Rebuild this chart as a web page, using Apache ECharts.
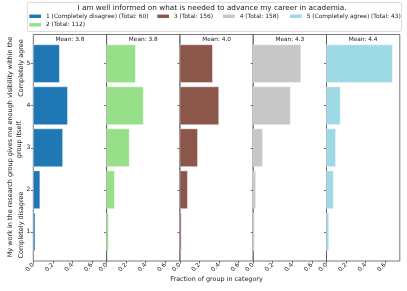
<!DOCTYPE html>
<html>
<head>
<meta charset="utf-8">
<script src="https://cdn.jsdelivr.net/npm/echarts@6/dist/echarts.min.js"></script>
<style>html,body{margin:0;padding:0;background:#fff}#c{width:407px;height:291px}</style>
</head>
<body>
<div id="c"></div>
<script>
const ratings = [1, 2, 3, 4, 5];
const seriesNames = [
  '1 (Completely disagree) (Total: 60)',
  '2 (Total: 112)',
  '3 (Total: 156)',
  '4 (Total: 158)',
  '5 (Completely agree) (Total: 43)'
];
// fraction of group in each rating category (rating 1..5)
const frac1 = [0.017, 0.067, 0.300, 0.350, 0.267];
const frac2 = [0.018, 0.080, 0.232, 0.375, 0.295];
const frac3 = [0.013, 0.077, 0.180, 0.397, 0.333];
const frac4 = [0.013, 0.025, 0.095, 0.380, 0.487];
const frac5 = [0.023, 0.070, 0.093, 0.140, 0.674];
const meanLabels = ['Mean: 3.8', 'Mean: 3.8', 'Mean: 4.0', 'Mean: 4.3', 'Mean: 4.4'];
const xTickValues = [0, 0.2, 0.4, 0.6];
const yTickValues = [1, 2, 3, 4, 5];
const titleText = 'I am well informed on what is needed to advance my career in academia.';
const xLabelText = 'Fraction of group in category';
const yLabelLine1 = 'My work in the research group gives me enough visibility within the';
const yLabelLine2 = 'group itself.';
const topLabel = 'Completely agree';
const bottomLabel = 'Completely disagree';

const fracs = [frac1, frac2, frac3, frac4, frac5];
const colors = ['#1f77b4', '#98df8a', '#8c564b', '#c7c7c7', '#9edae5'];
const FONT = 'DejaVu Sans';

const panelLeft = [33.3, 106.6, 179.9, 253.2, 326.5];
const panelW = 73.3, panelTop = 34.5, panelH = 226.5;

const grids = [], xAxes = [], yAxes = [], series = [];
for (let i = 0; i < 5; i++) {
  grids.push({left: panelLeft[i], top: panelTop, width: panelW, height: panelH,
    show: true, borderColor: '#555', borderWidth: 0.8, backgroundColor: 'transparent'});
  xAxes.push({type: 'value', gridIndex: i, min: 0, max: 0.75, interval: 0.2,
    splitLine: {show: false}, axisLine: {show: false},
    axisTick: {show: true, length: 2.5, lineStyle: {color: '#333', width: 0.7}},
    axisLabel: {show: true, rotate: 45, fontSize: 6, fontFamily: FONT, color: '#222', margin: 3,
      showMaxLabel: false, formatter: v => v.toFixed(1)}});
  yAxes.push({type: 'value', gridIndex: i, min: 0.305, max: 5.695,
    splitLine: {show: false}, axisLine: {show: false},
    axisTick: {show: true, length: 2.5, customValues: yTickValues, lineStyle: {color: '#333', width: 0.7}},
    axisLabel: {show: i === 0, customValues: yTickValues, fontSize: 6, fontFamily: FONT, color: '#222', margin: 3}});
  series.push({
    type: 'custom', name: seriesNames[i], xAxisIndex: i, yAxisIndex: i,
    itemStyle: {color: colors[i]},
    encode: {x: 0, y: 1},
    data: ratings.map((r, k) => [fracs[i][k], r]),
    renderItem: function (params, api) {
      const x = api.value(0), y = api.value(1);
      const p0 = api.coord([0, y + 0.45]);
      const p1 = api.coord([x, y - 0.45]);
      return {type: 'rect', shape: {x: p0[0], y: p0[1], width: p1[0] - p0[0], height: p1[1] - p0[1]},
        style: {fill: api.visual('color'), stroke: '#fff', lineWidth: 0.4}};
    }
  });
}

const legendPos = [[29.3, 13.3], [29.3, 21.8], [157.3, 13.3], [223, 13.3], [290, 13.3]];
const legends = seriesNames.map((n, i) => ({
  data: [n], left: legendPos[i][0], top: legendPos[i][1], padding: 0, itemGap: 0,
  icon: 'rect', itemWidth: 11.7, itemHeight: 3.5, selectedMode: false,
  textStyle: {fontSize: 5.9, fontFamily: FONT, color: '#222'}
}));

const graphics = [
  {type: 'rect', left: 27, top: 2, shape: {width: 374, height: 29, r: 2},
    style: {fill: 'rgba(255,255,255,0.8)', stroke: '#d0d0d0', lineWidth: 0.8}, z: -1},
  {type: 'text', x: 212, y: 8.5, style: {text: titleText, fontSize: 7.3, fontFamily: FONT, fill: '#222',
    align: 'center', verticalAlign: 'middle'}},
  {type: 'text', x: 216.5, y: 279, style: {text: xLabelText, fontSize: 6.4, fontFamily: FONT, fill: '#222',
    align: 'center', verticalAlign: 'middle'}},
  {type: 'text', x: 10, y: 147, rotation: Math.PI / 2, style: {text: yLabelLine1, fontSize: 6.5, fontFamily: FONT, fill: '#222',
    align: 'center', verticalAlign: 'middle'}},
  {type: 'text', x: 19.5, y: 139, rotation: Math.PI / 2, style: {text: yLabelLine2, fontSize: 6.5, fontFamily: FONT, fill: '#222',
    align: 'center', verticalAlign: 'middle'}},
  {type: 'text', x: 21, y: 68, rotation: Math.PI / 2, style: {text: topLabel, fontSize: 6.5, fontFamily: FONT, fill: '#222',
    align: 'center', verticalAlign: 'middle'}},
  {type: 'text', x: 21, y: 225, rotation: Math.PI / 2, style: {text: bottomLabel, fontSize: 6.5, fontFamily: FONT, fill: '#222',
    align: 'center', verticalAlign: 'middle'}}
];
meanLabels.forEach((m, i) => {
  graphics.push({type: 'text', x: panelLeft[i] + panelW / 2, y: 39, style: {text: m, fontSize: 5.8, fontFamily: FONT,
    fill: '#222', align: 'center', verticalAlign: 'middle'}});
});

const chart = echarts.init(document.getElementById('c'), null, {renderer: 'canvas'});
chart.setOption({
  animation: false,
  backgroundColor: '#fff',
  grid: grids, xAxis: xAxes, yAxis: yAxes, series: series,
  legend: legends,
  graphic: graphics
});
</script>
</body>
</html>
